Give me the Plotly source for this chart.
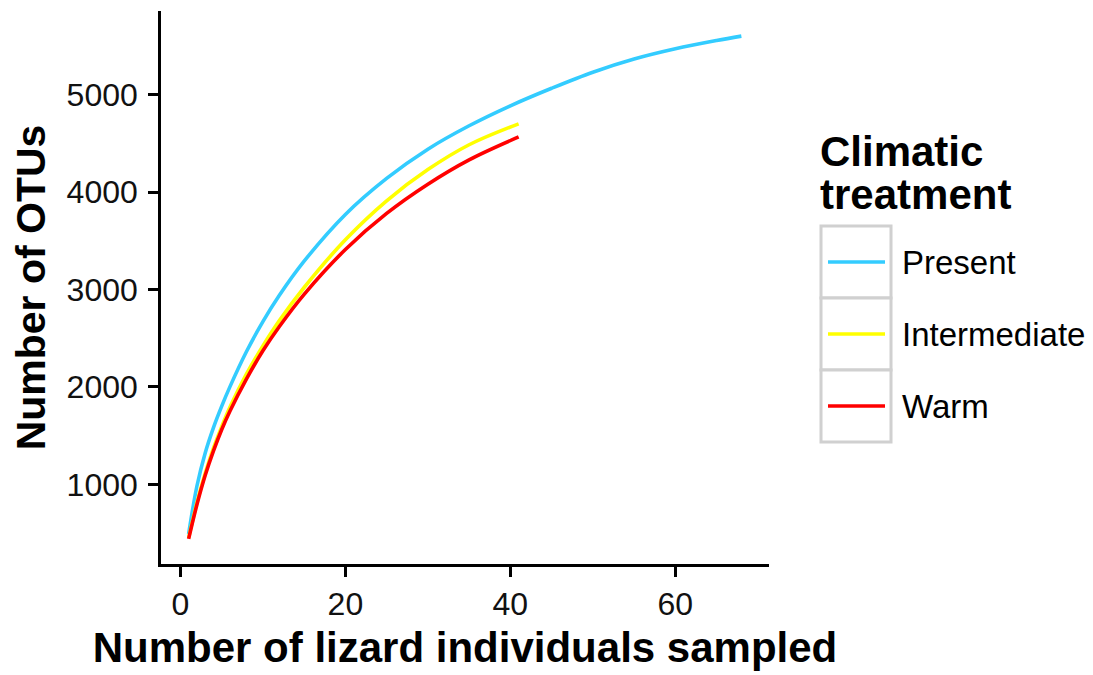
import plotly.graph_objects as go

# ---- data ----
present_x = [1, 2, 3, 4, 5, 6, 8, 10, 12, 15, 20, 25, 30, 35, 40, 45, 50, 55, 60, 65, 68]
present_y = [490, 980, 1320, 1580, 1800, 2000, 2360, 2670, 2940, 3290, 3770, 4140, 4440, 4680, 4885, 5065, 5230, 5365, 5470, 5555, 5600]

inter_x = [1, 2, 3, 4, 5, 6, 8, 10, 12, 15, 20, 25, 30, 35, 41]
inter_y = [450, 810, 1110, 1370, 1590, 1790, 2130, 2420, 2680, 3020, 3510, 3910, 4230, 4485, 4700]

warm_x = [1, 2, 3, 4, 5, 6, 8, 10, 12, 15, 20, 25, 30, 35, 41]
warm_y = [440, 790, 1090, 1340, 1560, 1750, 2080, 2370, 2620, 2950, 3410, 3780, 4080, 4330, 4565]

series_names = ["Present", "Intermediate", "Warm"]
series_colors = ["#33CCFF", "#FFFF00", "#FF0000"]
x_ticks = [0, 20, 40, 60]
y_ticks = [1000, 2000, 3000, 4000, 5000]

x_title = "Number of lizard individuals sampled"
y_title = "Number of OTUs"
legend_title_lines = ["Climatic", "treatment"]

# ---- layout geometry ----
W, H = 1093, 675
L, R, T, B = 161, 324, 11, 111
PW, PH = W - L - R, H - T - B


def px2x(px):
    return (px - L) / PW


def py2y(py):
    return (H - B - py) / PH


FONT = "Liberation Sans, Arial, sans-serif"

fig = go.Figure()
for xs, ys, name, col in zip([present_x, inter_x, warm_x], [present_y, inter_y, warm_y],
                             series_names, series_colors):
    fig.add_trace(go.Scatter(x=xs, y=ys, mode="lines", name=name,
                             line=dict(color=col, width=3.6, shape="spline", smoothing=1.0),
                             showlegend=False))

all_y = present_y + inter_y + warm_y
all_x = present_x + inter_x + warm_x
ymin, ymax = min(all_y), max(all_y)
xmin, xmax = min(all_x), max(all_x)
ypad = (ymax - ymin) * 0.05
xpad = (xmax - xmin) * 0.05

axis_common = dict(showline=True, linecolor="black", linewidth=2.6, ticks="outside",
                   ticklen=10, tickwidth=2.6, tickcolor="black", showgrid=False,
                   zeroline=False, tickfont=dict(family=FONT, size=32, color="#111111"))

fig.update_xaxes(range=[xmin - xpad, xmax + xpad], tickvals=x_ticks,
                 title=dict(text=f"<b>{x_title}</b>", font=dict(family=FONT, size=42, color="black"),
                            standoff=12),
                 ticklabelstandoff=0, **axis_common)
fig.update_yaxes(range=[ymin - ypad, ymax + ypad], tickvals=y_ticks,
                 title=dict(text=f"<b>{y_title}</b>", font=dict(family=FONT, size=41, color="black"),
                            standoff=9),
                 ticklabelstandoff=4, **axis_common)

# ---- manual legend ----
shapes = []
annotations = []
key_top = [226, 298, 370]
key_h = 72
for i, (name, col) in enumerate(zip(series_names, series_colors)):
    y0 = key_top[i]
    shapes.append(dict(type="rect", xref="paper", yref="paper",
                       x0=px2x(821), x1=px2x(891), y0=py2y(y0), y1=py2y(y0 + key_h),
                       line=dict(color="#D0D0D0", width=3), fillcolor="white"))
    yc = y0 + key_h / 2
    shapes.append(dict(type="line", xref="paper", yref="paper",
                       x0=px2x(828), x1=px2x(885), y0=py2y(yc), y1=py2y(yc),
                       line=dict(color=col, width=3.6)))
    annotations.append(dict(text=name, xref="paper", yref="paper", x=px2x(900), y=py2y(yc),
                            xanchor="left", yanchor="middle", showarrow=False,
                            font=dict(family=FONT, size=33, color="black")))

for j, line_txt in enumerate(legend_title_lines):
    annotations.append(dict(text=f"<b>{line_txt}</b>", xref="paper", yref="paper",
                            x=px2x(818), y=py2y(152 + 43 * j), xanchor="left", yanchor="middle",
                            align="left", showarrow=False,
                            font=dict(family=FONT, size=42, color="black")))

fig.update_layout(width=W, height=H, margin=dict(l=L, r=R, t=T, b=B, autoexpand=False),
                  plot_bgcolor="white", paper_bgcolor="white", showlegend=False,
                  shapes=shapes, annotations=annotations)

fig.write_html("out.html", config={"displayModeBar": False},
               post_script="document.body.style.margin='0';")
